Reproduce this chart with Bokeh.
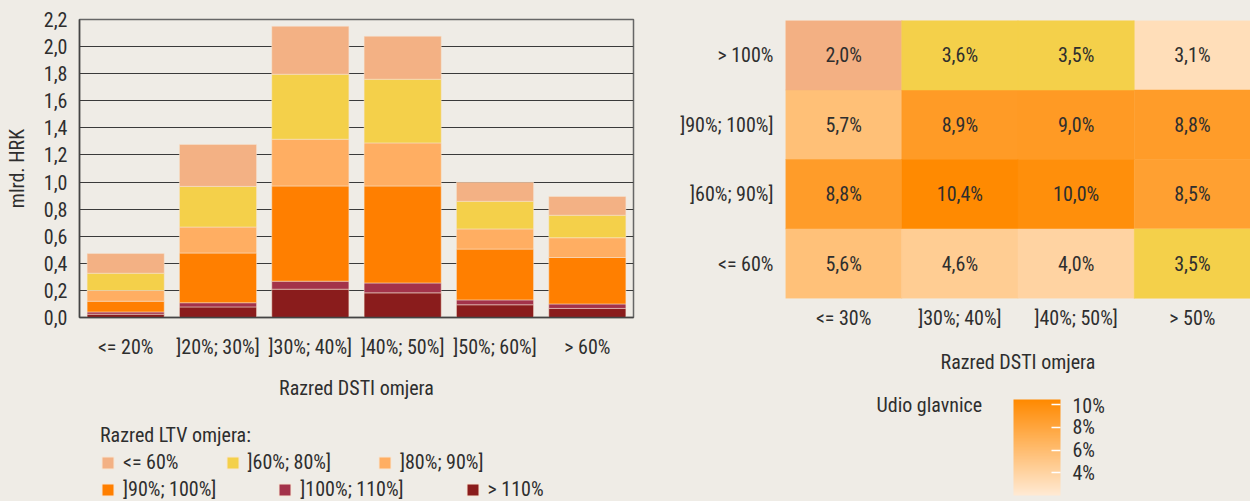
from bokeh.plotting import figure
from bokeh.layouts import row, column
from bokeh.models import (FactorRange, Range1d, FixedTicker, CustomJSTickFormatter, Legend, LegendItem,
                          LinearColorMapper, ColorBar, PrintfTickFormatter, Label, ColumnDataSource,
                          AllLabels)
from bokeh.core.properties import value
from bokeh.embed import file_html
from bokeh.resources import INLINE

# ---------------- data ----------------
dsti_classes = ["<= 20%", "]20%; 30%]", "]30%; 40%]", "]40%; 50%]", "]50%; 60%]", "> 60%"]
ltv_classes = ["<= 60%", "]60%; 80%]", "]80%; 90%]", "]90%; 100%]", "]100%; 110%]", "> 110%"]
ltv_le60 = [0.145, 0.310, 0.354, 0.317, 0.141, 0.138]
ltv_60_80 = [0.128, 0.300, 0.480, 0.470, 0.204, 0.166]
ltv_80_90 = [0.079, 0.192, 0.345, 0.318, 0.149, 0.146]
ltv_90_100 = [0.079, 0.367, 0.703, 0.716, 0.375, 0.343]
ltv_100_110 = [0.017, 0.031, 0.059, 0.073, 0.036, 0.033]
ltv_gt110 = [0.024, 0.078, 0.209, 0.182, 0.094, 0.067]
y_ticks = [0.0, 0.2, 0.4, 0.6, 0.8, 1.0, 1.2, 1.4, 1.6, 1.8, 2.0, 2.2]

heat_dsti = ["<= 30%", "]30%; 40%]", "]40%; 50%]", "> 50%"]
heat_ltv = ["> 100%", "]90%; 100%]", "]60%; 90%]", "<= 60%"]
share_gt100 = [2.0, 3.6, 3.5, 3.1]
share_90_100 = [5.7, 8.9, 9.0, 8.8]
share_60_90 = [8.8, 10.4, 10.0, 8.5]
share_le60 = [5.6, 4.6, 4.0, 3.5]
cbar_ticks = [4, 6, 8, 10]

# ---------------- style ----------------
BG = "#EFECE6"
TXT = "#2E2E2E"
FONT = "Roboto Condensed"
FS_L = "20px"
FS_R = "20px"
ltv_colors = ["#F3B184", "#F4D04A", "#FFAE62", "#FF7F00", "#A3324A", "#8A1C1C"]
EDGE = "#F7E6D4"
hl_x = ["<= 30%", "]30%; 40%]", "]40%; 50%]", "> 50%"]
hl_y = ["> 100%", "> 100%", "> 100%", "<= 60%"]
hl_colors = ["#F3B083", "#F4D04A", "#F4D04A", "#F4D04A"]


def mix(a, b, t):
    a = [int(a[i:i + 2], 16) for i in (1, 3, 5)]
    b = [int(b[i:i + 2], 16) for i in (1, 3, 5)]
    return "#%02X%02X%02X" % tuple(round(x + (y - x) * t) for x, y in zip(a, b))


palette = [mix("#FFEAD4", "#FF8A00", i / 255) for i in range(256)]

# ---------------- left: stacked bars ----------------
stack_keys = ["gt110", "r100_110", "r90_100", "r80_90", "r60_80", "le60"]
src = ColumnDataSource(dict(dsti=dsti_classes, gt110=ltv_gt110, r100_110=ltv_100_110,
                            r90_100=ltv_90_100, r80_90=ltv_80_90, r60_80=ltv_60_80, le60=ltv_le60))

p1 = figure(x_range=FactorRange(factors=dsti_classes), y_range=Range1d(0, 2.2),
            width=663, height=400, frame_width=554, frame_height=298,
            output_backend="svg", toolbar_location=None,
            min_border_left=79, min_border_right=30, min_border_top=19, min_border_bottom=83,
            background_fill_color=BG, border_fill_color=BG)

p1.vbar_stack(stack_keys, x="dsti", width=0.835, source=src,
              fill_color=list(reversed(ltv_colors)), line_color=EDGE,
              line_width=0.7, line_alpha=0.7)

p1.xgrid.grid_line_color = None
p1.ygrid.grid_line_color = "#3A3A3A"
p1.ygrid.grid_line_width = 1
p1.outline_line_color = "#666666"
p1.outline_line_width = 1.5

p1.yaxis.ticker = FixedTicker(ticks=y_ticks)
p1.yaxis.formatter = CustomJSTickFormatter(code="return tick.toFixed(1).replace('.', ',')")
p1.yaxis.axis_label = "mlrd. HRK"
p1.xaxis.axis_label = "Razred DSTI omjera"
for ax in (p1.xaxis[0], p1.yaxis[0]):
    ax.major_tick_line_color = None
    ax.major_tick_out = 0
    ax.major_tick_in = 0
    ax.minor_tick_line_color = None
    ax.axis_line_color = "#444444"
    ax.axis_line_width = 1.5
    ax.major_label_text_font = FONT
    ax.major_label_text_font_size = FS_L
    ax.major_label_text_color = TXT
    ax.axis_label_text_font = FONT
    ax.axis_label_text_font_size = FS_L
    ax.axis_label_text_font_style = "normal"
    ax.axis_label_text_color = TXT
p1.xaxis.major_label_standoff = 17
p1.xaxis.axis_label_standoff = 14
p1.yaxis.major_label_standoff = 12
p1.yaxis.axis_label_standoff = 12

# legend panel under the bars (its frame is aligned with the bar chart frame: x 79..633)
pleg = figure(x_range=Range1d(79, 633), y_range=Range1d(501, 400), width=663, height=101,
              output_backend="svg", toolbar_location=None, x_axis_location=None, y_axis_location=None,
              min_border=0, background_fill_color=BG, border_fill_color=BG, outline_line_color=None)
pleg.grid.grid_line_color = None
proxies = {l: pleg.vbar(x=[0], top=[float("nan")], width=1, fill_color=c, line_color=EDGE)
           for l, c in zip(ltv_classes, ltv_colors)}


def make_legend(labels, loc, spacing, title=None):
    leg = Legend(items=[LegendItem(label=value(l), renderers=[proxies[l]]) for l in labels],
                 location=loc, orientation="horizontal", padding=0, margin=0,
                 spacing=spacing, glyph_width=15, glyph_height=15, label_standoff=8, label_height=20,
                 label_text_font=FONT, label_text_font_size=FS_L, label_text_color=TXT,
                 background_fill_alpha=0, border_line_alpha=0)
    if title:
        leg.title = title
        leg.title_text_font = FONT
        leg.title_text_font_size = FS_L
        leg.title_text_font_style = "normal"
        leg.title_text_color = TXT
        leg.title_standoff = 3
    return leg


pleg.add_layout(make_legend(ltv_classes[:3], (21, 29), 46, "Razred LTV omjera:"), "center")
pleg.add_layout(make_legend(ltv_classes[3:], (21, 2), 61), "center")

# ---------------- right: heatmap ----------------
hx, hy, hv = [], [], []
for ltv, vals in zip(heat_ltv, [share_gt100, share_90_100, share_60_90, share_le60]):
    for d, v in zip(heat_dsti, vals):
        hx.append(d)
        hy.append(ltv)
        hv.append(v)
hsrc = ColumnDataSource(dict(x=hx, y=hy, v=hv,
                             label=[f"{v:.1f}".replace(".", ",") + "%" for v in hv]))

mapper = LinearColorMapper(palette=palette, low=2.0, high=10.45)

p2 = figure(x_range=FactorRange(factors=heat_dsti), y_range=FactorRange(factors=list(reversed(heat_ltv))),
            width=587, height=393, frame_width=465, frame_height=278,
            output_backend="svg", toolbar_location=None,
            min_border_left=122, min_border_right=0, min_border_top=20, min_border_bottom=95,
            background_fill_color=BG, border_fill_color=BG)
p2.rect(x="x", y="y", width=1, height=1, source=hsrc,
        fill_color={"field": "v", "transform": mapper},
        line_color={"field": "v", "transform": mapper}, line_width=0.5)
p2.rect(x=hl_x, y=hl_y, width=1, height=1, fill_color=hl_colors, line_color=hl_colors, line_width=0.5)
p2.text(x="x", y="y", text="label", source=hsrc, text_align="center", text_baseline="middle",
        text_font=value(FONT), text_font_size=FS_R, text_color=TXT)

p2.grid.grid_line_color = None
p2.outline_line_color = None
p2.xaxis.axis_label = "Razred DSTI omjera"
for ax in (p2.xaxis[0], p2.yaxis[0]):
    ax.major_tick_line_color = None
    ax.major_tick_out = 0
    ax.major_tick_in = 0
    ax.minor_tick_line_color = None
    ax.axis_line_color = None
    ax.major_label_text_font = FONT
    ax.major_label_text_font_size = FS_R
    ax.major_label_text_color = TXT
    ax.axis_label_text_font = FONT
    ax.axis_label_text_font_size = FS_R
    ax.axis_label_text_font_style = "normal"
    ax.axis_label_text_color = TXT
p2.xaxis.major_label_standoff = 7
p2.xaxis.axis_label_standoff = 17
p2.yaxis.major_label_standoff = 12

# colour bar panel under the heatmap (frame aligned with heatmap frame: x 785..1250)
pcb = figure(x_range=Range1d(785, 1250), y_range=Range1d(501, 393), width=587, height=108,
             output_backend="svg", toolbar_location=None, x_axis_location=None, y_axis_location=None,
             min_border=0, background_fill_color=BG, border_fill_color=BG, outline_line_color=None)
pcb.grid.grid_line_color = None
cb = ColorBar(color_mapper=mapper, ticker=FixedTicker(ticks=cbar_ticks),
              formatter=PrintfTickFormatter(format="%d%%"), major_label_policy=AllLabels(),
              orientation="vertical", width=47, height=96, location=(228, 6), padding=0,
              label_standoff=12, major_label_text_font=FONT, major_label_text_font_size=FS_R,
              major_label_text_color=TXT, major_tick_line_color="white", major_tick_line_width=1.5,
              major_tick_in=9, major_tick_out=0, bar_line_color=None,
              background_fill_alpha=0, border_line_color=None)
pcb.add_layout(cb, "center")
pcb.add_layout(Label(x=876, y=404, text="Udio glavnice", text_font=FONT, text_font_size=FS_R,
                     text_color=TXT, text_baseline="middle"))

layout = row(column(p1, pleg), column(p2, pcb))
tmpl = "{% block postamble %}<style>body{background:" + BG + ";}</style>{% endblock %}"
open("out.html", "w").write(file_html(layout, INLINE, template=tmpl))
